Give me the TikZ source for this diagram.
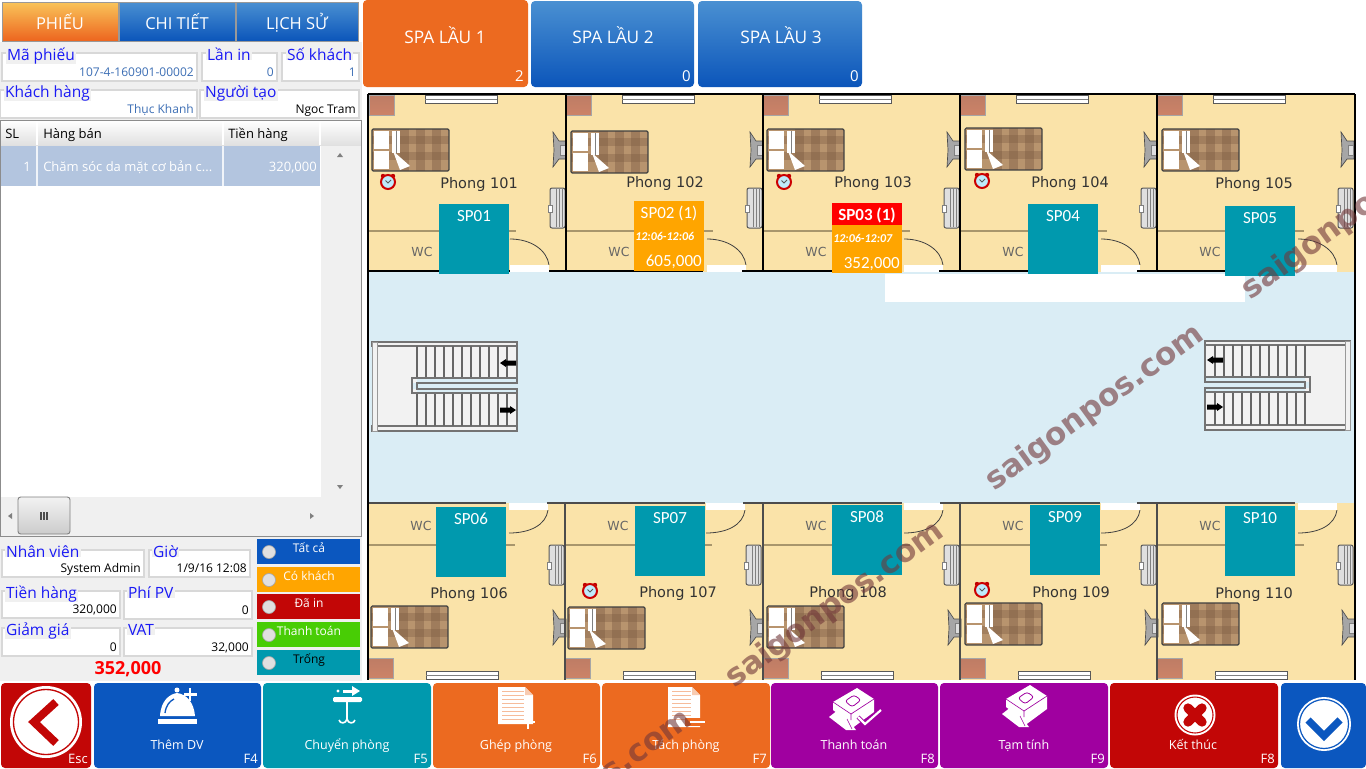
\documentclass[tikz,border=0pt]{standalone}
\usepackage{fontspec}
\setmainfont{Open Sans}
\newfontfamily\calfont{Carlito}
\newfontfamily\roomfont{DejaVu Sans}
\newcommand\fs[1]{\fontsize{\fpeval{0.75*#1}}{\fpeval{0.9*#1}}\selectfont}
\definecolor{panelbg}{HTML}{F0F0F0}
\definecolor{tabblueT}{HTML}{4A90D2}
\definecolor{tabblueB}{HTML}{0B55BA}
\definecolor{taborT}{HTML}{F9C45A}
\definecolor{btnblue}{HTML}{0B57BF}
\definecolor{btnteal}{HTML}{0099AE}
\definecolor{btnorange}{HTML}{EC6A20}
\definecolor{btnpurple}{HTML}{A000A0}
\definecolor{btnred}{HTML}{C20606}
\definecolor{btngreen}{HTML}{48CD05}
\definecolor{amberc}{HTML}{FFA500}
\definecolor{floorc}{HTML}{FAE3A9}
\definecolor{corridor}{HTML}{DAEDF5}
\definecolor{lblblue}{HTML}{1A1AF5}
\definecolor{valblue}{HTML}{3D6FB5}
\definecolor{fsborder}{HTML}{D8D8D8}
\definecolor{rowsel}{HTML}{B3C5DF}
\definecolor{brickc}{HTML}{C97C60}
\definecolor{bedbase}{HTML}{B8946E}
\definecolor{bandc}{HTML}{7B5A42}
\definecolor{wallb}{HTML}{A8966C}
\definecolor{wmc}{HTML}{713739}
\newcounter{nc}
\newcommand\tx[6]{\stepcounter{nc}\node[inner sep=0pt,anchor=#3,text=#5,font=#4] (n\arabic{nc}) at (#1,#2) {#6};}
% fieldset: x1 y1 x2 y2 labelx label value valuecolor
\newcommand\fset[8]{%
  \fill[white] (#1,#2) rectangle (#3,#4);
  \draw[fsborder,line width=.9pt] (#1,#2) rectangle (#3,#4);
  \stepcounter{nc}\node[inner sep=0pt,inner xsep=1pt,anchor=base west,text=lblblue,font=\fs{15.5},fill=panelbg] (n\arabic{nc}) at (#5-1.5,#2+7) {#6};
  \tx{#3-3}{#4-5}{base east}{\fs{12}}{#8}{#7}}
\newcommand\bed[2]{\begin{scope}[shift={(#1,#2)}]
  \fill[bedbase] (0,0) rectangle (77,42);
  \foreach \qa in {28,44,60}{\fill[bandc,opacity=.4] (\qa,0) rectangle +(9,42);}
  \foreach \qb in {7,23}{\fill[bandc,opacity=.35] (0,\qb) rectangle +(77,8);}
  \fill[white] (2,2) rectangle (17,20);
  \fill[white] (2,22) rectangle (17,40);
  \fill[white] (20,2) rectangle (28,24);
  \draw[gray,line width=.75pt] (24,2)--(24,24);
  \fill[white] (21,22)--(38,37)--(28,41)--cycle;
  \draw[black!75,line width=.9pt,rounded corners=1pt] (0,0) rectangle (77,42);
  \end{scope}}
\newcommand\clockic[2]{\begin{scope}[shift={(#1,#2)}]
  \fill[red!75!black] (-5,-6) circle [radius=2.2]; \fill[red!75!black] (5,-6) circle [radius=2.2];
  \fill[cyan!25] (0,0) circle [radius=7.5];
  \draw[red!80!black,line width=1.5pt] (0,0) circle [radius=7];
  \draw[gray!70!black,line width=.6pt] (-2.5,-1.5)--(0,1)--(3,-2);
  \end{scope}}
\newcommand\brick[2]{\shade[top color=brickc!85!gray,bottom color=brickc!95!white,draw=black!35,line width=.5pt] (#1,#2) rectangle +(25,20);}
\newcommand\windowic[2]{\fill[white] (#1,#2) rectangle +(72,8);
  \draw[black!65,line width=.75pt] (#1,#2) rectangle +(72,8);
  \draw[gray,line width=.6pt] (#1,#2+4) -- +(72,0);}
\newcommand\tvic[2]{\begin{scope}[shift={(#1,#2)}]
  \fill[gray!70,draw=black!70,line width=.5pt] (0,0)--(6,9)--(13,9)--(13,27)--(6,27)--(0,35)--(1,18)--cycle;
  \fill[gray!25,draw=gray,line width=.4pt] (7,13) rectangle (12,23);
  \end{scope}}
\newcommand\acic[2]{\begin{scope}[shift={(#1,#2)}]
  \fill[gray!25,draw=black!65,line width=.75pt,rounded corners=1.5pt] (2,0) rectangle (17,40);
  \foreach \qc in {8,11,14}{\draw[gray,line width=.5pt] (\qc,1)--(\qc,39);}
  \fill[white,draw=gray,line width=.4pt] (0,17) rectangle (4,24);
  \end{scope}}
\newcommand\uroom[1]{\begin{scope}[shift={(#1,0)}]
  \draw[wallb,line width=1pt] (0,231)--(147,231);
  \draw[black!75,line width=.6pt] (141,239) .. controls (162,239) and (178,250) .. (180,265);
  \fill[white] (141,265) rectangle (180,272);
  \brick{0}{95}
  \windowic{56}{95}
  \tvic{184}{132}
  \acic{179}{188}
  \tx{53}{256}{base}{\roomfont\fs{12.5}}{black!60}{WC}
  \end{scope}}
\newcommand\lroom[1]{\begin{scope}[shift={(#1,0)}]
  \draw[wallb,line width=1pt] (0,545)--(147,545);
  \draw[black!75,line width=.6pt] (141,533) .. controls (162,533) and (178,525) .. (180,510);
  \fill[white] (141,503) rectangle (180,510);
  \brick{0}{658}
  \windowic{58}{671}
  \tvic{185}{610}
  \acic{179}{545}
  \tx{53}{530}{base}{\roomfont\fs{12.5}}{black!60}{WC}
  \end{scope}}
\newcommand\stairs{%
  \fill[black!5] (0,0) rectangle (45,90);
  \fill[black!5] (45,2) rectangle (145,37);
  \fill[black!5] (45,52) rectangle (145,90);
  \draw[black!55,line width=.8pt] (0,1) rectangle (145,5);
  \draw[black!55,line width=.8pt] (0,85) rectangle (145,90);
  \draw[black!40,line width=.6pt,fill=black!5] (0,1) rectangle (5,90);
  \foreach \qd in {45,54,...,135}{\draw[black!60,line width=.8pt] (\qd,5)--(\qd,37);\draw[black!60,line width=.8pt] (\qd,52)--(\qd,85);}
  \fill[corridor] (40,42) rectangle (145,48);
  \draw[black!55,line width=.8pt] (145,37)--(40,37)--(40,52)--(145,52)--(145,48)--(45,48)--(45,42)--(145,42)--cycle;
  \draw[black!55,line width=.8pt] (145,1)--(145,37);
  \draw[black!55,line width=.8pt] (145,52)--(145,90);}
\newcommand\arrL[2]{\fill[black] (#1,#2)--(#1+6,#2-4)--(#1+6,#2-2.5)--(#1+16,#2-2.5)--(#1+16,#2+2.5)--(#1+6,#2+2.5)--(#1+6,#2+4)--cycle;}
\newcommand\arrR[2]{\fill[black] (#1+16,#2)--(#1+10,#2-4)--(#1+10,#2-2.5)--(#1,#2-2.5)--(#1,#2+2.5)--(#1+10,#2+2.5)--(#1+10,#2+4)--cycle;}
\newcommand\spbox[3]{\fill[btnteal] (#1,#2) rectangle +(70,70);
  \tx{#1+35}{#2+17}{base}{\calfont\fs{17}}{white}{#3}}
\newcommand\bigbtn[6]{% x1 x2 colour label cx Fkey
  \fill[#3,rounded corners=3pt] (#1,683) rectangle (#2,768);
  \tx{#5}{749}{base}{\fs{12.5}}{white}{#4}
  \tx{#2-3}{763}{base east}{\fs{13}}{white}{#6}}
\newcommand\filt[4]{\fill[#3] (257,#1) rectangle (360,#1+25);
  \fill[black!12,draw=gray!70,line width=.5pt] (269,#1+13) circle [radius=6.5];
  \tx{309}{#1+13.5}{base}{\fs{12}}{#4}{#2}}
\newcommand\docic[4]{\begin{scope}[shift={(#1,#2)}]
  \fill[white] (0,0)--(#3-8,0)--(#3,8)--(#3,#4)--(0,#4)--cycle;
  \fill[btnorange!35] (#3-8,0)--(#3-8,8)--(#3,8)--cycle;
  \foreach \qe in {4,8,...,32}{\draw[btnorange!45,line width=.7pt] (4,\qe)--(#3-9,\qe);}
  \end{scope}}
\newcommand\printer[2]{\begin{scope}[shift={(#1,#2)}]
  \fill[white] (-4,29)--(5,22)--(14,30)--(23,42)--(13,42)--cycle;
  \fill[white] (0,14)--(24,0)--(41,11)--(41,24)--(18,41)--(12,31)--(0,22)--cycle;
  \draw[btnpurple,line width=.5pt] (0,14)--(18,26)--(41,11);
  \draw[btnpurple,line width=.4pt] (14,31)--(19,41) (18,26)--(18,32);
  \draw[btnpurple,line width=.6pt,rounded corners=2pt] (12,13)--(21,7)--(28,12)--(19,19)--cycle;
  \end{scope}}
\begin{document}
\begin{tikzpicture}[x=0.75pt,y=-0.75pt]
\clip (0,0) rectangle (1366,768);
\fill[white] (0,0) rectangle (1366,768);
% left panel
\fill[panelbg] (0,42) rectangle (362,681);
% tabs
\shade[top color=taborT,bottom color=btnorange!95!red,draw=gray!80,line width=.7pt] (2,2) rectangle (118,41);
\shade[top color=tabblueT,bottom color=tabblueB,draw=gray!80,line width=.7pt] (119,2) rectangle (235,41);
\shade[top color=tabblueT,bottom color=tabblueB,draw=gray!80,line width=.7pt] (236,2) rectangle (358,41);
\tx{60}{29}{base}{\fs{16.5}}{white}{PHIẾU}
\tx{177}{29}{base}{\fs{16.5}}{white}{CHI TIẾT}
\tx{297}{29}{base}{\fs{16.5}}{white}{LỊCH SỬ}
% spa buttons
\fill[btnorange,rounded corners=3pt] (363,0) rectangle (528,87);
\shade[top color=tabblueT,bottom color=tabblueB,rounded corners=3pt] (531,1) rectangle (694,87);
\shade[top color=tabblueT,bottom color=tabblueB,rounded corners=3pt] (698,1) rectangle (862,87);
\tx{445}{43}{base}{\fs{17.3}}{white}{SPA LẦU 1}
\tx{613}{43}{base}{\fs{17.3}}{white}{SPA LẦU 2}
\tx{781}{43}{base}{\fs{17.3}}{white}{SPA LẦU 3}
\tx{524}{81}{base east}{\fs{15}}{white}{2}
\tx{691}{81}{base east}{\fs{15}}{white}{0}
\tx{859}{81}{base east}{\fs{15}}{white}{0}
% fieldsets top
\fset{2}{53}{197}{81}{7}{Mã phiếu}{107-4-160901-00002}{valblue}
\fset{202}{53}{277}{81}{207}{Lần in}{0}{valblue}
\fset{282}{53}{359}{81}{287}{Số khách}{1}{valblue}
\fset{0}{90}{197}{118}{5}{Khách hàng}{Thục Khanh}{valblue}
\fset{200}{90}{359}{118}{205}{Người tạo}{Ngoc Tram}{black}
% table
\fill[white] (0,120) rectangle (361,536);
\fill[panelbg] (321,146) rectangle (361,536);
\fill[panelbg] (0,497) rectangle (361,536);
\shade[top color=white,bottom color=black!12] (0,120) rectangle (361,145);
\foreach \qx in {37,223,320}{\draw[white,line width=1pt] (\qx,120)--(\qx,145);}
\fill[rowsel] (0,146) rectangle (320,186);
\foreach \qx in {37,223}{\draw[white!80!rowsel,line width=1pt] (\qx,146)--(\qx,186);}
\draw[black!45,line width=.7pt] (0.5,120) rectangle (361,536);
\tx{5}{138}{base west}{\fs{13}}{black}{SL}
\tx{43}{138}{base west}{\fs{13}}{black}{Hàng bán}
\tx{228}{138}{base west}{\fs{13}}{black}{Tiền hàng}
\tx{31}{171}{base east}{\fs{13}}{white}{1}
\tx{43}{171}{base west}{\fs{13}}{white}{Chăm sóc da mặt cơ bản c...}
\tx{317}{171}{base east}{\fs{13}}{white}{320,000}
\fill[gray] (337,157)--(343,157)--(340,153)--cycle;
\fill[gray] (337,485)--(343,485)--(340,489)--cycle;
\fill[gray] (12,513)--(12,519)--(8,516)--cycle;
\fill[gray] (310,513)--(310,519)--(314,516)--cycle;
\shade[top color=black!5,bottom color=black!20,draw=gray,line width=.7pt,rounded corners=2pt] (18,497) rectangle (70,534);
\foreach \qx in {41,44,47}{\draw[black!70,line width=.8pt] (\qx,512)--(\qx,520);}
% fieldsets bottom
\fset{2}{550}{144}{577}{6}{Nhân viên}{System Admin}{black}
\fset{149}{550}{250}{577}{153}{Giờ}{1/9/16 12:08}{black}
\fset{2}{591}{120}{618}{6}{Tiền hàng}{320,000}{black}
\fset{124}{591}{252}{619}{128}{Phí PV}{0}{black}
\fset{2}{628}{120}{656}{6}{Giảm giá}{0}{black}
\fset{124}{628}{252}{656}{128}{VAT}{32,000}{black}
\tx{128}{674}{base}{\bfseries\fs{18}}{red}{352,000}
% filters
\filt{539}{Tất cả}{btnblue}{white}
\filt{567}{Có khách}{amberc}{white}
\filt{594}{Đã in}{btnred}{white}
\filt{622}{Thanh toán}{btngreen}{white}
\filt{650}{Trống}{btnteal}{black}
% floor plan
\fill[floorc] (368,94) rectangle (1355,680);
\fill[corridor] (368,272) rectangle (1355,503);
\uroom{369}\uroom{566}\uroom{763}\uroom{960}\uroom{1157}
\lroom{368}\lroom{565}\lroom{763}\lroom{960}\lroom{1157}
\bed{372}{129}\bed{571}{131}\bed{767}{129}\bed{965}{128}\bed{1162}{129}
\bed{371}{606}\bed{568}{607}\bed{767}{606}\bed{965}{603}\bed{1162}{603}
\clockic{388}{182}\clockic{784}{182}\clockic{982}{181}
\clockic{590}{591}\clockic{982}{590}
\tikzset{wallu/.style={black,line width=1.6pt},walll/.style={black!70,line width=1.4pt}}
\draw[wallu] (368,94)--(1355,94);
\foreach \qx in {566,763,960,1157}{\draw[wallu] (\qx,94)--(\qx,271);}
\draw[wallu] (368,271)--(510,271) (549,271)--(703,271) (742,271)--(900,271) (939,271)--(1098,271) (1137,271)--(1295,271);
\foreach \qx in {565,763,960,1157}{\draw[walll] (\qx,503)--(\qx,680);}
\draw[walll] (368,503)--(506,503) (547,503)--(705,503) (743,503)--(902,503) (940,503)--(1100,503) (1137,503)--(1295,503);
\fill[white] (885,274) rectangle (1245,302);
\begin{scope}[shift={(372,341)}]\stairs\end{scope}
\begin{scope}[shift={(1350,340)},xscale=-1]\stairs\end{scope}
\arrL{500}{363}\arrR{500}{410}\arrL{1207}{360}\arrR{1207}{407}
\draw[black,line width=2pt] (368,94)--(368,680);
\draw[black,line width=2pt] (1355,94)--(1355,680);
% room labels
\tx{479}{188}{base}{\roomfont\fs{14.5}}{black!80}{Phong 101}
\tx{665}{187}{base}{\roomfont\fs{14.5}}{black!80}{Phong 102}
\tx{873}{187}{base}{\roomfont\fs{14.5}}{black!80}{Phong 103}
\tx{1070}{187}{base}{\roomfont\fs{14.5}}{black!80}{Phong 104}
\tx{1254}{188}{base}{\roomfont\fs{14.5}}{black!80}{Phong 105}
\tx{469}{598}{base}{\roomfont\fs{14.5}}{black!80}{Phong 106}
\tx{678}{597}{base}{\roomfont\fs{14.5}}{black!80}{Phong 107}
\tx{848}{597}{base}{\roomfont\fs{14.5}}{black!80}{Phong 108}
\tx{1071}{597}{base}{\roomfont\fs{14.5}}{black!80}{Phong 109}
\tx{1254}{598}{base}{\roomfont\fs{14.5}}{black!80}{Phong 110}
% SP boxes
\spbox{439}{204}{SP01}
\spbox{1028}{204}{SP04}
\spbox{1225}{206}{SP05}
\spbox{436}{507}{SP06}
\spbox{635}{506}{SP07}
\spbox{832}{505}{SP08}
\spbox{1030}{505}{SP09}
\spbox{1225}{506}{SP10}
\fill[amberc] (634,201) rectangle (704,271);
\tx{669}{218}{base}{\calfont\fs{17}}{white}{SP02 (1)}
\tx{635}{240}{base west}{\calfont\bfseries\itshape\fs{12}}{white}{12:06-12:06}
\tx{702}{266}{base east}{\calfont\fs{17}}{white}{605,000}
\fill[amberc] (832,225) rectangle (902,273);
\fill[red] (832,203) rectangle (902,225);
\tx{867}{220}{base}{\calfont\bfseries\fs{17}}{white}{SP03 (1)}
\tx{833}{242}{base west}{\calfont\bfseries\itshape\fs{12}}{white}{12:06-12:07}
\tx{900}{268}{base east}{\calfont\fs{17}}{white}{352,000}
% bottom buttons
\fill[btnred,rounded corners=3pt] (1,683) rectangle (91,768);
\tx{88}{763}{base east}{\fs{13}}{white}{Esc}
\fill[white] (46,722) circle [radius=36];
\draw[btnred,line width=1pt] (46,722) circle [radius=32.5];
\draw[btnred,line width=6pt] (56,702)--(34,722)--(56,743);
\bigbtn{94}{261}{btnblue}{Thêm DV}{177}{F4}
\bigbtn{263}{431}{btnteal}{Chuyển phòng}{347}{F5}
\bigbtn{433}{600}{btnorange}{Ghép phòng}{516}{F6}
\bigbtn{602}{770}{btnorange}{Tách phòng}{686}{F7}
\bigbtn{771}{938}{btnpurple}{Thanh toán}{854}{F8}
\bigbtn{940}{1108}{btnpurple}{Tạm tính}{1024}{F9}
\bigbtn{1110}{1278}{btnred}{Kết thúc}{1193}{F8}
\fill[btnblue,rounded corners=3pt] (1281,683) rectangle (1366,768);
% bell
\fill[white] (158,719) rectangle (197,724);
\fill[white] (160,716) .. controls (161,700) and (170,694) .. (177,693) .. controls (186,694) and (194,702) .. (195,716) -- cycle;
\fill[white] (177,690) circle [radius=2.5];
\draw[btnblue,line width=1pt] (165,713) .. controls (166,705) and (170,701) .. (174,699);
\draw[white,line width=2pt] (190,688)--(190,701) (184,694.5)--(197,694.5);
% table icon
\fill[white,rounded corners=1pt] (333,697) rectangle (362,702);
\draw[white,line width=2pt] (347,702)--(347,719);
\draw[white,line width=1.2pt] (339,720) .. controls (340,724) and (346,724) .. (347,719) .. controls (348,724) and (354,724) .. (355,720);
\fill[white] (343,689.5) rectangle (352,692.5);
\fill[white] (352,686)--(360,691)--(352,696)--cycle;
\fill[white] (338,691) circle [radius=1.7];
% documents
\docic{498}{687}{35}{37}
\draw[white,line width=1.6pt] (528,716)--(528,729) (521,722)--(535,722);
\docic{668}{687}{32}{40}
\fill[btnorange] (685,718) rectangle (706,726);
\draw[white,line width=2.2pt] (690,722)--(705,722);
% printers
\printer{833}{688}
\draw[btnpurple,line width=3pt] (858,717)--(865,724)--(881,710);
\draw[white,line width=1.6pt] (858,717)--(865,724)--(881,710);
\printer{1006}{685}
% ket thuc
\fill[white] (1195,715) circle [radius=20.5];
\draw[btnred,line width=.8pt] (1195,715) circle [radius=18];
\draw[btnred,line width=7pt,line cap=round] (1188,708)--(1202,722) (1202,708)--(1188,722);
% chevron down
\fill[white] (1324,724) circle [radius=27];
\draw[btnblue,line width=.9pt] (1324,724) circle [radius=24.5];
\draw[btnblue,line width=5.5pt] (1308,720)--(1324,736)--(1340,720);
% watermarks
\foreach \qx/\qy in {1351/217,1095/408,835/605,583/793}{
  \node[rotate=36,opacity=.6,text=wmc,font={\roomfont\bfseries\fs{31}},inner sep=0pt] at (\qx,\qy) {saigonpos.com};}
\end{tikzpicture}
\end{document}
